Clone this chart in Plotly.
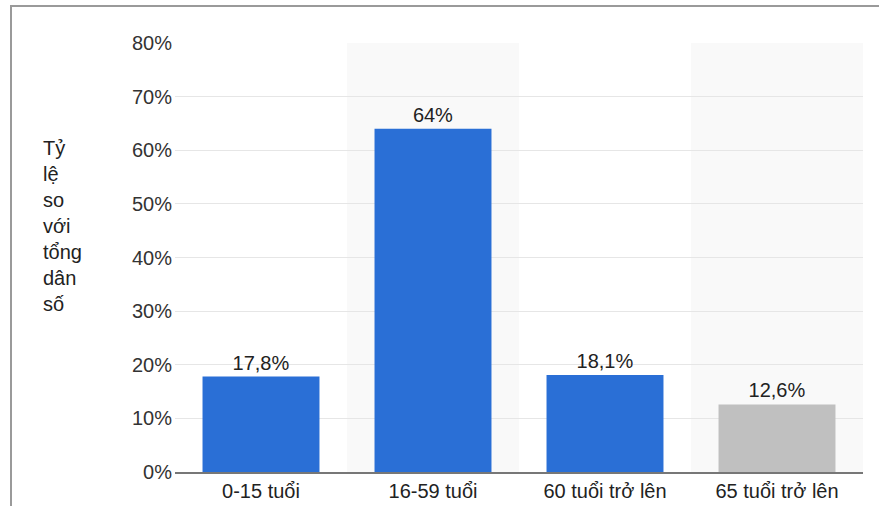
import plotly.graph_objects as go

categories = ["0-15 tuổi", "16-59 tuổi", "60 tuổi trở lên", "65 tuổi trở lên"]
values = [17.8, 64, 18.1, 12.6]
value_labels = ["17,8%", "64%", "18,1%", "12,6%"]
bar_colors = ["#2a6fd6", "#2a6fd6", "#2a6fd6", "#c0c0c0"]
tick_vals = [0, 10, 20, 30, 40, 50, 60, 70, 80]
tick_text = ["0%", "10%", "20%", "30%", "40%", "50%", "60%", "70%", "80%"]
y_title_words = ["Tỷ", "lệ", "so", "với", "tổng", "dân", "số"]

W, H = 879, 506
ML, MR, MT, MB = 175, 16, 43, 34
PW = W - ML - MR
PH = H - MT - MB

def px_x(px):
    return (px - ML) / PW

def px_y(py):
    return (H - MB - py) / PH

fig = go.Figure()
fig.add_trace(go.Bar(
    x=categories, y=values,
    marker=dict(color=bar_colors, line=dict(width=0)),
    text=value_labels, textposition="outside", cliponaxis=False,
    textfont=dict(size=20, color="#222222"),
    hoverinfo="skip",
))

shapes = []
# alternating category bands
for i in (1, 3):
    shapes.append(dict(type="rect", xref="x", yref="paper", x0=i - 0.5, x1=i + 0.5,
                       y0=0, y1=1, fillcolor="#f9f9f9", line=dict(width=0), layer="below"))
# frame lines
shapes.append(dict(type="line", xref="paper", yref="paper", x0=px_x(11), x1=px_x(11),
                   y0=px_y(6), y1=px_y(506), line=dict(color="#9a9a9a", width=2)))
shapes.append(dict(type="line", xref="paper", yref="paper", x0=px_x(10), x1=px_x(879),
                   y0=px_y(6), y1=px_y(6), line=dict(color="#9a9a9a", width=2)))

fig.update_layout(
    width=W, height=H,
    margin=dict(l=ML, r=MR, t=MT, b=MB, autoexpand=False),
    paper_bgcolor="white", plot_bgcolor="rgba(0,0,0,0)",
    font=dict(family="Liberation Sans, Arial, sans-serif", size=20, color="#333333"),
    bargap=0.32,
    showlegend=False,
    shapes=shapes,
    xaxis=dict(showgrid=False, showline=True, linecolor="#777777", linewidth=1.5,
               ticks="", tickfont=dict(size=20, color="#222222"), fixedrange=True,
               automargin=False),
    yaxis=dict(range=[0, 80], tickvals=tick_vals, ticktext=tick_text,
               showgrid=True, gridcolor="#e6e6e6", gridwidth=1, zeroline=False,
               showline=False, ticks="", ticklabelstandoff=2,
               tickfont=dict(size=20, color="#333333"), fixedrange=True,
               automargin=False),
    annotations=[dict(
        xref="paper", yref="paper", x=px_x(41), y=px_y(135),
        xanchor="left", yanchor="top", align="left", showarrow=False,
        text="<br>".join(y_title_words),
        font=dict(size=20, color="#222222"),
    )],
)

fig.write_html("out.html")
